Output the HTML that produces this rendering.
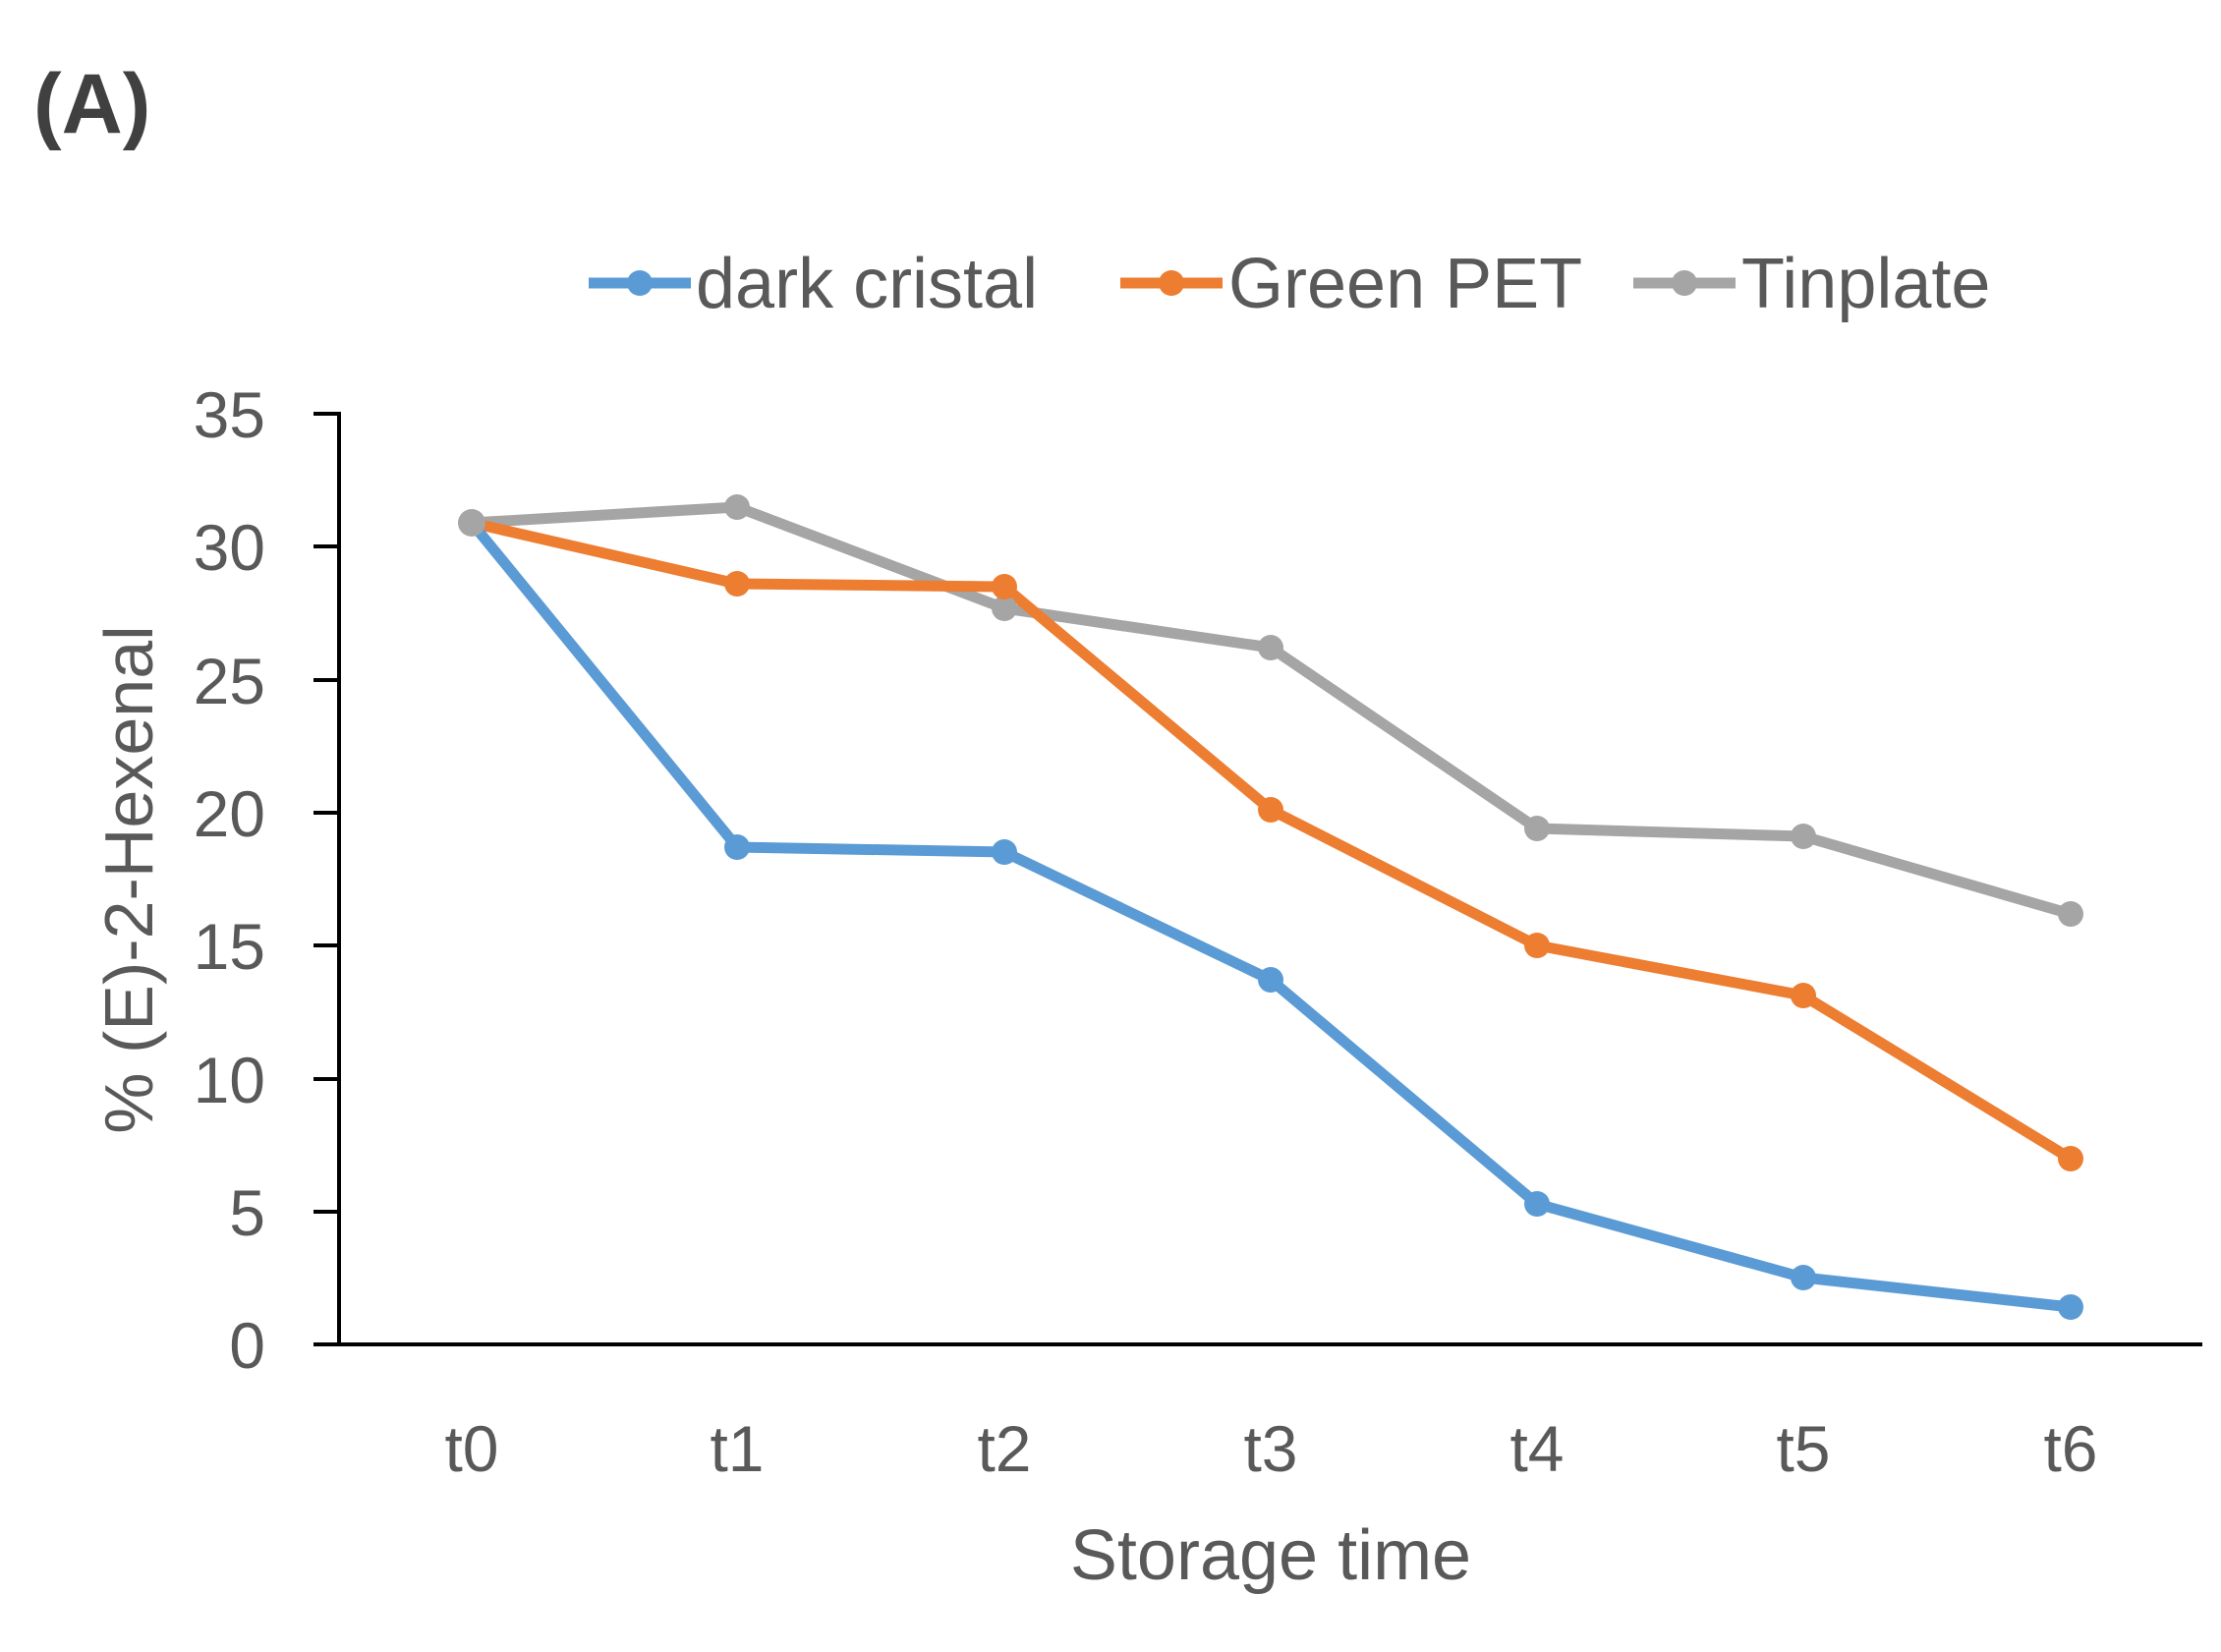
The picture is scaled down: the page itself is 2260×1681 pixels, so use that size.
<!DOCTYPE html>
<html><head><meta charset="utf-8"><style>body{margin:0;background:#fff}</style></head><body>
<svg width="2260" height="1676" xmlns="http://www.w3.org/2000/svg" font-family="Liberation Sans, sans-serif">
<rect width="2260" height="1676" fill="#fff"/>
<text x="34" y="135" font-size="86" font-weight="bold" fill="#404040">(A)</text>
<g stroke="#000" stroke-width="4">
<line x1="345" y1="419" x2="345" y2="1370"/>
<line x1="319" y1="1368" x2="2241" y2="1368"/>
<line x1="319" y1="421" x2="345" y2="421"/>
<line x1="319" y1="556" x2="345" y2="556"/>
<line x1="319" y1="692" x2="345" y2="692"/>
<line x1="319" y1="827" x2="345" y2="827"/>
<line x1="319" y1="962" x2="345" y2="962"/>
<line x1="319" y1="1098" x2="345" y2="1098"/>
<line x1="319" y1="1233" x2="345" y2="1233"/>
</g>
<g font-size="66" fill="#595959" text-anchor="end">
<text x="270" y="445">35</text><text x="270" y="580">30</text><text x="270" y="716">25</text>
<text x="270" y="851">20</text><text x="270" y="986">15</text><text x="270" y="1122">10</text>
<text x="270" y="1257">5</text><text x="270" y="1392">0</text>
</g>
<g font-size="66" fill="#595959" text-anchor="middle">
<text x="480" y="1497">t0</text><text x="750" y="1497">t1</text><text x="1022" y="1497">t2</text>
<text x="1293" y="1497">t3</text><text x="1564" y="1497">t4</text><text x="1835" y="1497">t5</text><text x="2107" y="1497">t6</text>
<text x="1293" y="1607" font-size="72">Storage time</text>
<text transform="translate(155,895) rotate(-90)" font-size="70">%  (E)-2-Hexenal</text>
</g>
<g fill="none" stroke-width="11" stroke-linejoin="round">
<polyline stroke="#A5A5A5" points="480,532 750,516 1022,619 1293,659 1564,843 1835,851 2107,930"/>
<polyline stroke="#ED7D31" points="480,532 750,594 1022,597 1293,824 1564,962 1835,1013 2107,1179"/>
<polyline stroke="#5B9BD5" points="480,532 750,862 1022,867 1293,997 1564,1225 1835,1300 2107,1330"/>
</g>
<g fill="#A5A5A5"><circle cx="750" cy="516" r="13"/><circle cx="1022" cy="619" r="13"/><circle cx="1293" cy="659" r="13"/><circle cx="1564" cy="843" r="13"/><circle cx="1835" cy="851" r="13"/><circle cx="2107" cy="930" r="13"/></g>
<g fill="#ED7D31"><circle cx="750" cy="594" r="13"/><circle cx="1022" cy="597" r="13"/><circle cx="1293" cy="824" r="13"/><circle cx="1564" cy="962" r="13"/><circle cx="1835" cy="1013" r="13"/><circle cx="2107" cy="1179" r="13"/></g>
<g fill="#5B9BD5"><circle cx="750" cy="862" r="13"/><circle cx="1022" cy="867" r="13"/><circle cx="1293" cy="997" r="13"/><circle cx="1564" cy="1225" r="13"/><circle cx="1835" cy="1300" r="13"/><circle cx="2107" cy="1330" r="13"/></g>
<circle cx="480" cy="532" r="14" fill="#A5A5A5"/>
<g stroke-width="11">
<line x1="599" y1="288" x2="703" y2="288" stroke="#5B9BD5"/><circle cx="651" cy="288" r="13" fill="#5B9BD5"/>
<line x1="1140" y1="288" x2="1244" y2="288" stroke="#ED7D31"/><circle cx="1192" cy="288" r="13" fill="#ED7D31"/>
<line x1="1662" y1="288" x2="1766" y2="288" stroke="#A5A5A5"/><circle cx="1714" cy="288" r="13" fill="#A5A5A5"/>
</g>
<g font-size="72" fill="#595959">
<text x="708" y="313">dark cristal</text>
<text x="1250" y="313">Green PET</text>
<text x="1772" y="313">Tinplate</text>
</g>
</svg>
</body></html>
